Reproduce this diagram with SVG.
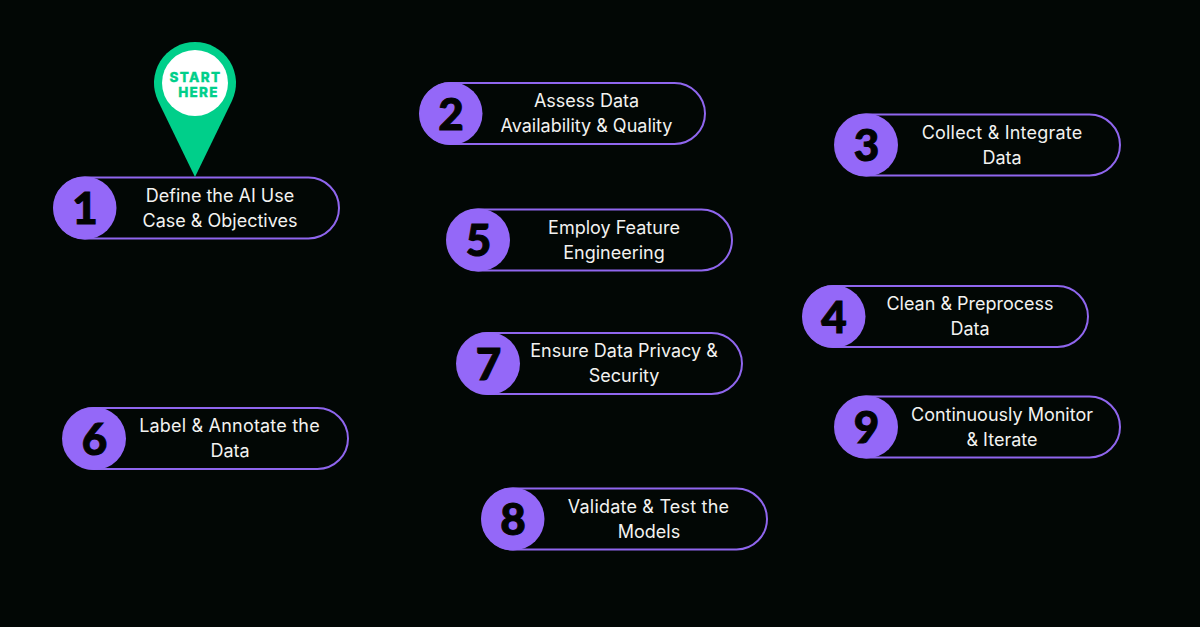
<svg xmlns="http://www.w3.org/2000/svg" width="1200" height="627" viewBox="0 0 1200 627">
<style>
.pill{fill:#020705;stroke:#8f66ee;stroke-width:2}
.disc{fill:#9468f8}
.num{font-family:Lato,"Liberation Sans",sans-serif;font-weight:900;font-size:44px;fill:#020403;stroke:#020403;stroke-width:1;text-anchor:middle}
.lab{font-family:Inter,"Liberation Sans",sans-serif;font-size:18px;fill:#f2f2f0;text-anchor:middle}
.w{letter-spacing:.2px}
.pin{font-family:Inter,"Liberation Sans",sans-serif;font-weight:800;font-size:13.500px;letter-spacing:1.300px;fill:#00cf8a;stroke:#00cf8a;stroke-width:.3;text-anchor:middle}
</style>
<rect width="1200" height="627" fill="#020705"/>
<g id="node-1"><rect class="pill" x="54" y="177.500" width="285" height="61" rx="30.500"/><circle class="disc" cx="85" cy="208" r="31.500"/><text class="num" x="85" y="224">1</text><text class="lab" x="220" y="202">Define the AI Use</text><text class="lab" x="220" y="227">Case &amp; Objectives</text></g>
<g id="start-pin"><path d="M195 177L158.100 100.900A41 41 0 1 1 231.900 100.900Z" fill="#00cf8a"/><circle cx="195" cy="83" r="33" fill="#fff"/><text class="pin" x="195.500" y="81.500">START</text><text class="pin" x="198.500" y="96.500">HERE</text></g>
<g id="node-2"><rect class="pill" x="420" y="83" width="285" height="61" rx="30.500"/><circle class="disc" cx="451" cy="113.500" r="31.500"/><text class="num" x="451" y="129.500">2</text><text class="lab" x="586.500" y="107">Assess Data</text><text class="lab" x="586.500" y="132">Availability &amp; Quality</text></g>
<g id="node-3"><rect class="pill" x="835" y="114.500" width="285" height="61" rx="30.500"/><circle class="disc" cx="866.500" cy="145" r="31.500"/><text class="num" x="866.500" y="161">3</text><text class="lab w" x="1002" y="138.500">Collect &amp; Integrate</text><text class="lab" x="1002" y="163.500">Data</text></g>
<g id="node-4"><rect class="pill" x="803" y="286" width="285" height="61" rx="30.500"/><circle class="disc" cx="834" cy="316.500" r="31.500"/><text class="num" x="834" y="332.500">4</text><text class="lab" x="970" y="310">Clean &amp; Preprocess</text><text class="lab" x="970" y="335">Data</text></g>
<g id="node-5"><rect class="pill" x="447" y="209.500" width="285" height="61" rx="30.500"/><circle class="disc" cx="478.500" cy="240" r="31.500"/><text class="num" x="478.500" y="256">5</text><text class="lab" x="614" y="234">Employ Feature</text><text class="lab" x="614" y="259">Engineering</text></g>
<g id="node-6"><rect class="pill" x="63" y="408" width="285" height="61" rx="30.500"/><circle class="disc" cx="94.500" cy="438.500" r="31.500"/><text class="num" x="94.500" y="454.500">6</text><text class="lab w" x="229.500" y="432">Label &amp; Annotate the</text><text class="lab" x="230" y="457">Data</text></g>
<g id="node-7"><rect class="pill" x="457" y="333" width="285" height="61" rx="30.500"/><circle class="disc" cx="488.500" cy="363.500" r="31.500"/><text class="num" x="488.500" y="379.500">7</text><text class="lab" x="624" y="357">Ensure Data Privacy &amp;</text><text class="lab" x="624" y="382">Security</text></g>
<g id="node-8"><rect class="pill" x="482" y="488.500" width="285" height="61" rx="30.500"/><circle class="disc" cx="513" cy="519" r="31.500"/><text class="num" x="513" y="535">8</text><text class="lab w" x="648.500" y="513">Validate &amp; Test the</text><text class="lab" x="649" y="538">Models</text></g>
<g id="node-9"><rect class="pill" x="835" y="396.500" width="285" height="61" rx="30.500"/><circle class="disc" cx="866.500" cy="427" r="31.500"/><text class="num" x="866.500" y="443">9</text><text class="lab" x="1002" y="421">Continuously Monitor</text><text class="lab" x="1002" y="446">&amp; Iterate</text></g>
<g id="connectors"></g>
</svg>
